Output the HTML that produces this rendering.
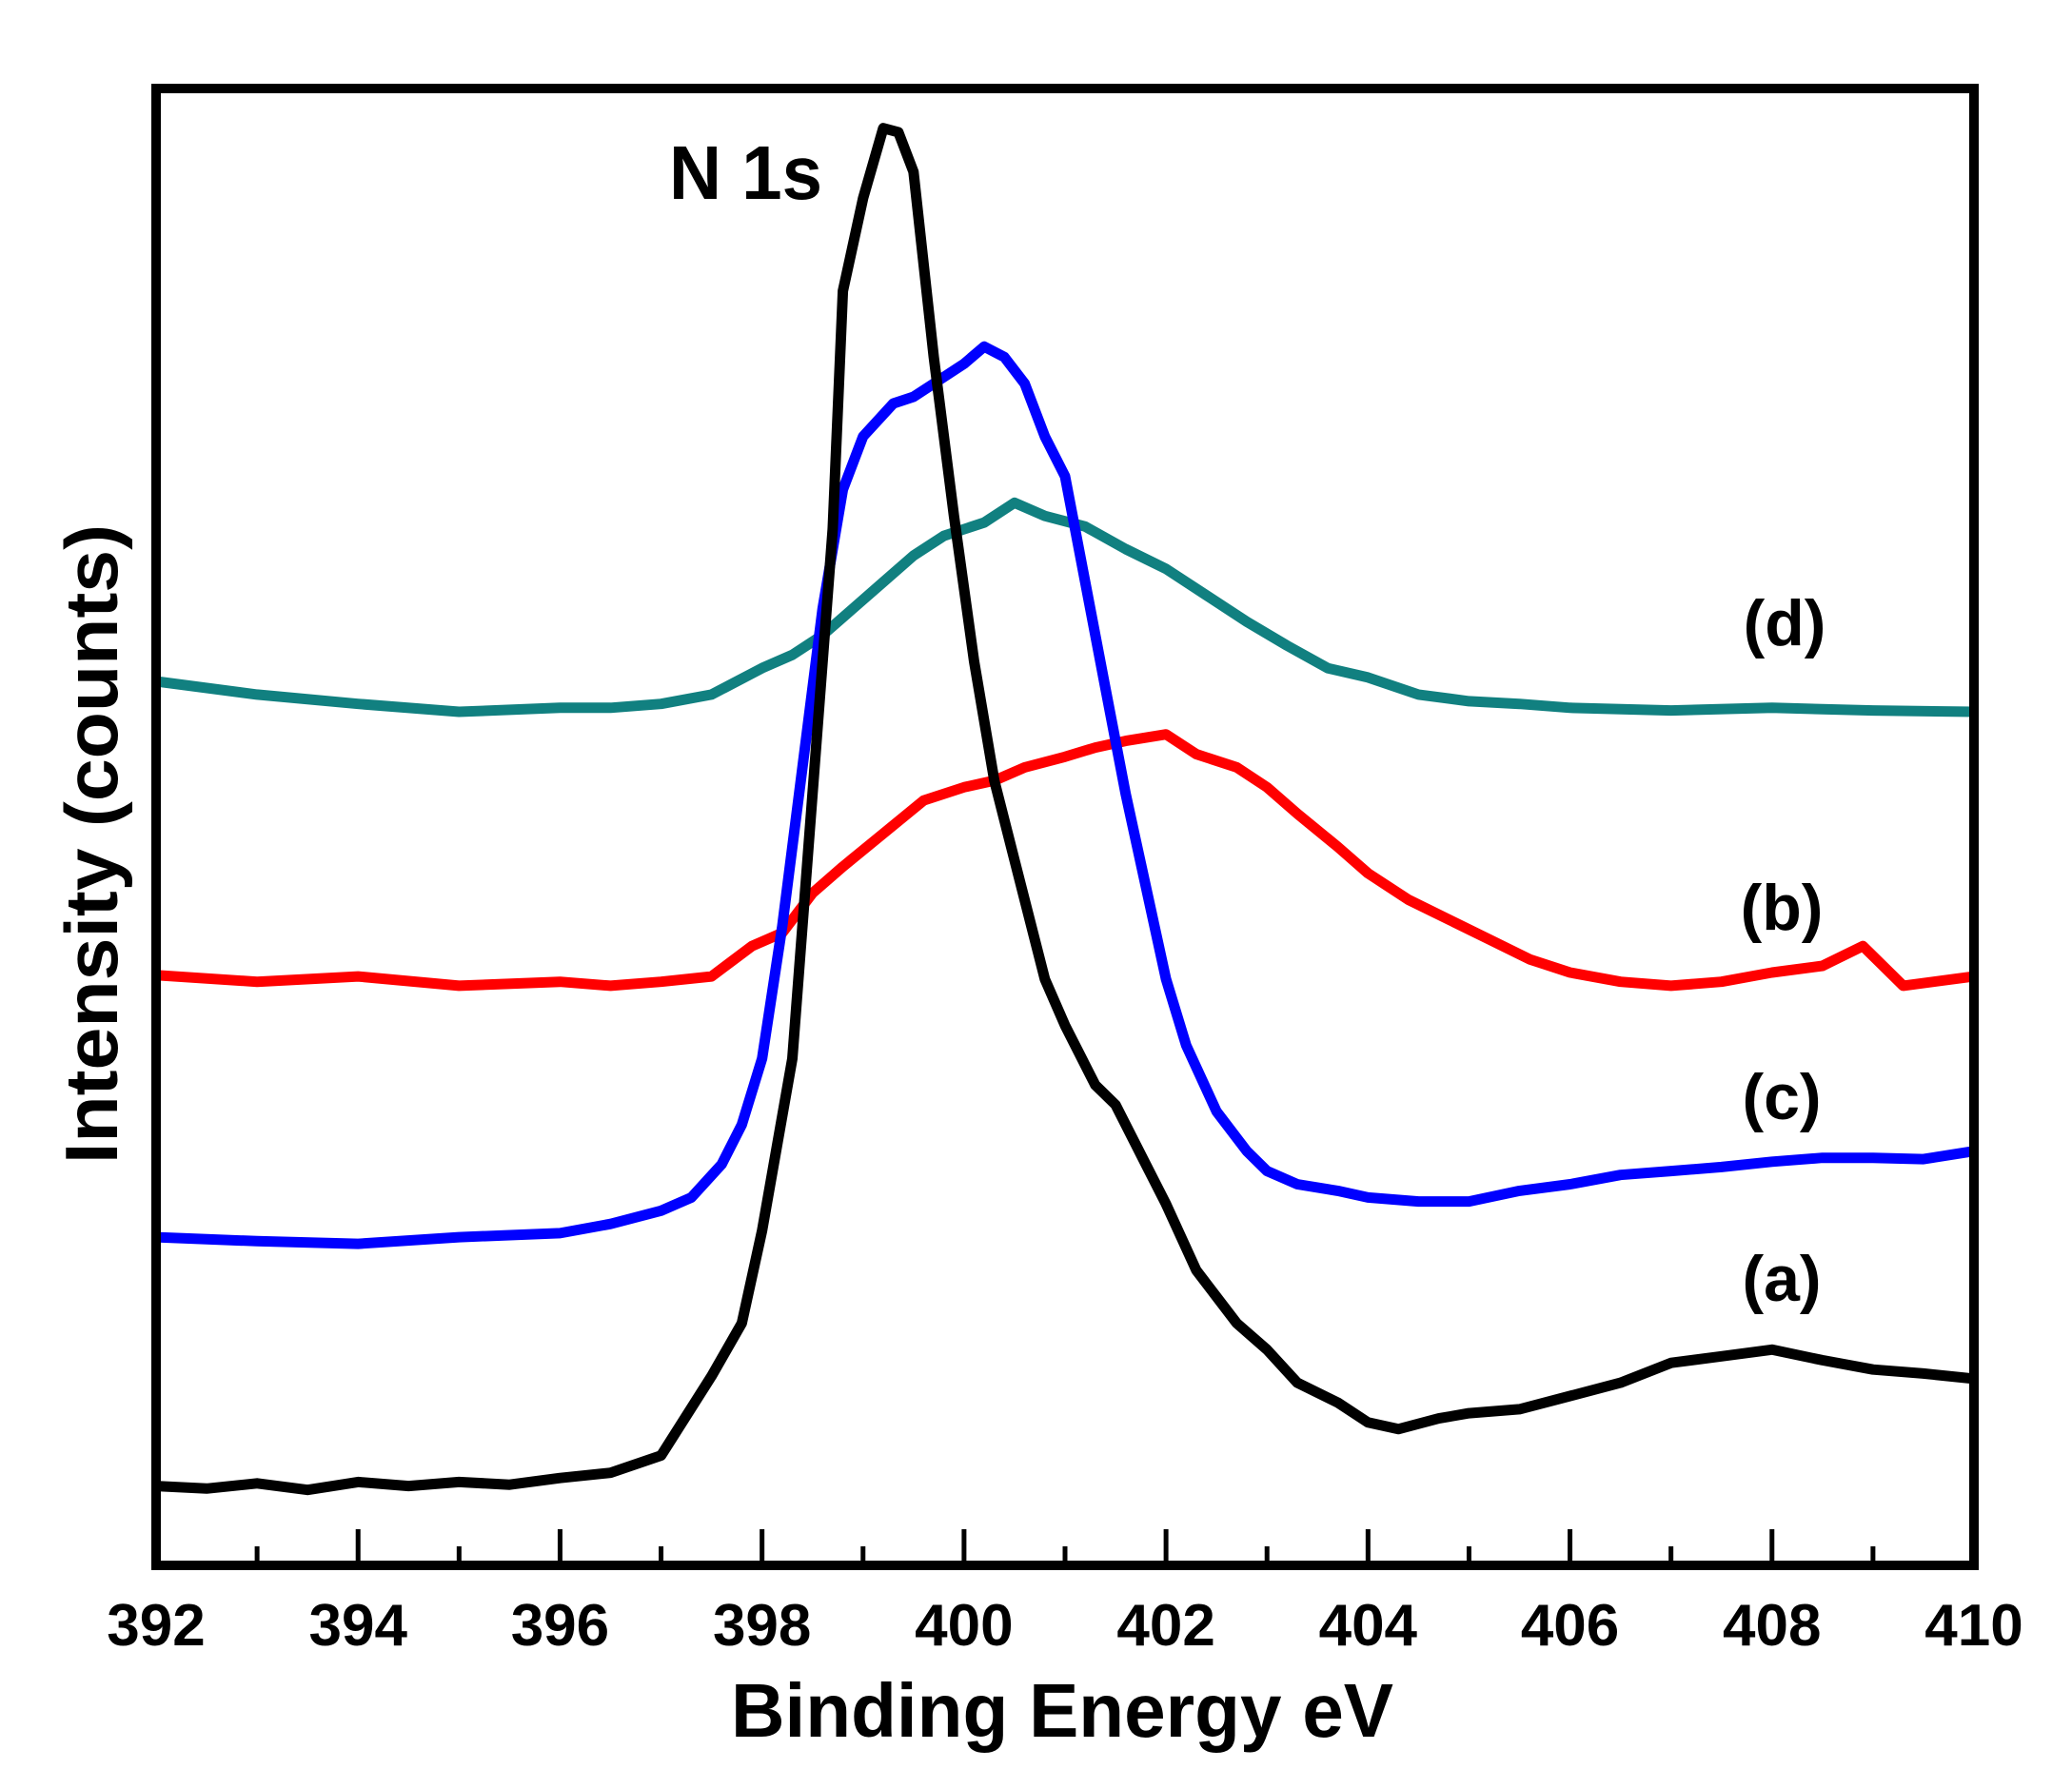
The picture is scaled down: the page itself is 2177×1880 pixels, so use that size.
<!DOCTYPE html>
<html><head><meta charset="utf-8"><style>
html,body{margin:0;padding:0;background:#fff;}
svg{display:block;}
text{font-family:"Liberation Sans",Arial,sans-serif;font-weight:bold;fill:#000;}
</style></head><body>
<svg id="chart" width="2177" height="1880" viewBox="0 0 2177 1880" xmlns="http://www.w3.org/2000/svg">
<g id="series"></g>
<g id="axes"></g>
<text x="703" y="209" font-size="80" textLength="161" lengthAdjust="spacingAndGlyphs">N 1s</text>
<text x="1875" y="678" font-size="68" text-anchor="middle">(d)</text>
<text x="1872" y="977" font-size="68" text-anchor="middle">(b)</text>
<text x="1872" y="1176" font-size="68" text-anchor="middle">(c)</text>
<text x="1872" y="1367" font-size="68" text-anchor="middle">(a)</text>
<text x="768" y="1825" font-size="80" textLength="696" lengthAdjust="spacingAndGlyphs">Binding Energy eV</text>
<text transform="translate(123,887) rotate(-90)" font-size="78" text-anchor="middle" textLength="672" lengthAdjust="spacingAndGlyphs">Intensity (counts)</text>
</svg>
<script>
const xTicks = [392,394,396,398,400,402,404,406,408,410];
const xMinor = [393,395,397,399,401,403,405,407,409];
const eA = [392,392.5,393,393.5,394,394.5,395,395.5,396,396.5,397,397.5,397.8,398,398.3,398.5,398.7,398.8,399,399.2,399.35,399.5,399.7,399.9,400.1,400.3,400.5,400.8,401,401.3,401.5,401.8,402,402.3,402.7,403,403.3,403.7,404,404.3,404.7,405,405.5,406,406.5,407,407.5,408,408.5,409,409.5,410];
const vA = [60,58,62,57,63,60,63,61,66,70,83,143,183,253,383,583,783,963,1033,1086,1083,1053,913,793,683,593,533,443,408,363,348,303,273,223,183,163,138,123,108,103,111,115,118,128,138,153,158,163,155,148,145,141];
const eC = [392,393,394,395,396,396.5,397,397.3,397.6,397.8,398,398.2,398.4,398.6,398.8,399,399.3,399.5,399.8,400,400.2,400.4,400.6,400.8,401,401.2,401.4,401.6,401.8,402,402.2,402.5,402.8,403,403.3,403.7,404,404.5,405,405.5,406,406.5,407,407.5,408,408.5,409,409.5,410];
const vC = [248,245,243,248,251,258,268,278,303,333,383,483,603,723,813,853,878,883,898,908,921,913,893,853,823,743,663,583,513,443,393,343,313,298,288,283,278,275,275,283,288,295,298,301,305,308,308,307,313];
const eB = [392,393,394,395,396,396.5,397,397.5,397.9,398.2,398.5,398.8,399.2,399.6,400,400.3,400.6,401,401.3,401.6,402,402.3,402.7,403,403.3,403.7,404,404.4,404.8,405.2,405.6,406,406.5,407,407.5,408,408.5,408.9,409.3,410];
const vB = [446,441,445,438,441,438,441,445,468,478,508,528,553,578,588,593,603,611,618,623,628,613,603,588,568,543,523,503,488,473,458,448,441,438,441,448,453,468,438,445];
const eD = [392,393,394,395,396,396.5,397,397.5,398,398.3,398.6,398.9,399.2,399.5,399.8,400.2,400.5,400.8,401.2,401.6,402,402.4,402.8,403.2,403.6,404,404.5,405,405.5,406,407,408,409,410];
const vD = [668,658,651,645,648,648,651,658,678,688,703,723,743,763,778,788,803,793,785,768,753,733,713,695,678,671,658,653,651,648,646,648,646,645];

const NS = "http://www.w3.org/2000/svg";
const L = 164, R = 2074, T = 93, B = 1645;
const xMin = 392, xMax = 410, yMin = 0, yMax = 1116;
function xs(e){ return L + (e - xMin) / (xMax - xMin) * (R - L); }
function ys(v){ return B - (v - yMin) / (yMax - yMin) * (B - T); }

const series = document.getElementById('series');
function drawLine(es, vs, color, name){
  const p = document.createElementNS(NS, 'polyline');
  p.setAttribute('points', es.map((e,i)=> xs(e).toFixed(1)+','+ys(vs[i]).toFixed(1)).join(' '));
  p.setAttribute('fill','none');
  p.setAttribute('stroke',color);
  p.setAttribute('stroke-width','11');
  p.setAttribute('stroke-linejoin','round');
  
  
  series.appendChild(p);
}
drawLine(eD, vD, '#118080', 'series-d');
drawLine(eB, vB, '#ff0000', 'series-b');
drawLine(eC, vC, '#0000ff', 'series-c');
drawLine(eA, vA, '#000000', 'series-a');

const axes = document.getElementById('axes');
const frame = document.createElementNS(NS, 'rect');
frame.setAttribute('x', L); frame.setAttribute('y', T);
frame.setAttribute('width', R - L); frame.setAttribute('height', B - T);
frame.setAttribute('fill','none'); frame.setAttribute('stroke','#000'); frame.setAttribute('stroke-width','10');


axes.appendChild(frame);

xTicks.forEach(t => {
  const l = document.createElementNS(NS, 'line');
  l.setAttribute('x1', xs(t)); l.setAttribute('x2', xs(t));
  l.setAttribute('y1', B); l.setAttribute('y2', B - 38);
  l.setAttribute('stroke','#000'); l.setAttribute('stroke-width','5');
  
  
  axes.appendChild(l);
  const tx = document.createElementNS(NS, 'text');
  tx.setAttribute('x', xs(t)); tx.setAttribute('y', 1729);
  tx.setAttribute('font-size', '62');
  tx.setAttribute('text-anchor', 'middle');
  tx.textContent = t;
  
  
  axes.appendChild(tx);
});
xMinor.forEach(t => {
  const l = document.createElementNS(NS, 'line');
  l.setAttribute('x1', xs(t)); l.setAttribute('x2', xs(t));
  l.setAttribute('y1', B); l.setAttribute('y2', B - 20);
  l.setAttribute('stroke','#000'); l.setAttribute('stroke-width','5');
  
  
  axes.appendChild(l);
});
</script>
</body></html>
